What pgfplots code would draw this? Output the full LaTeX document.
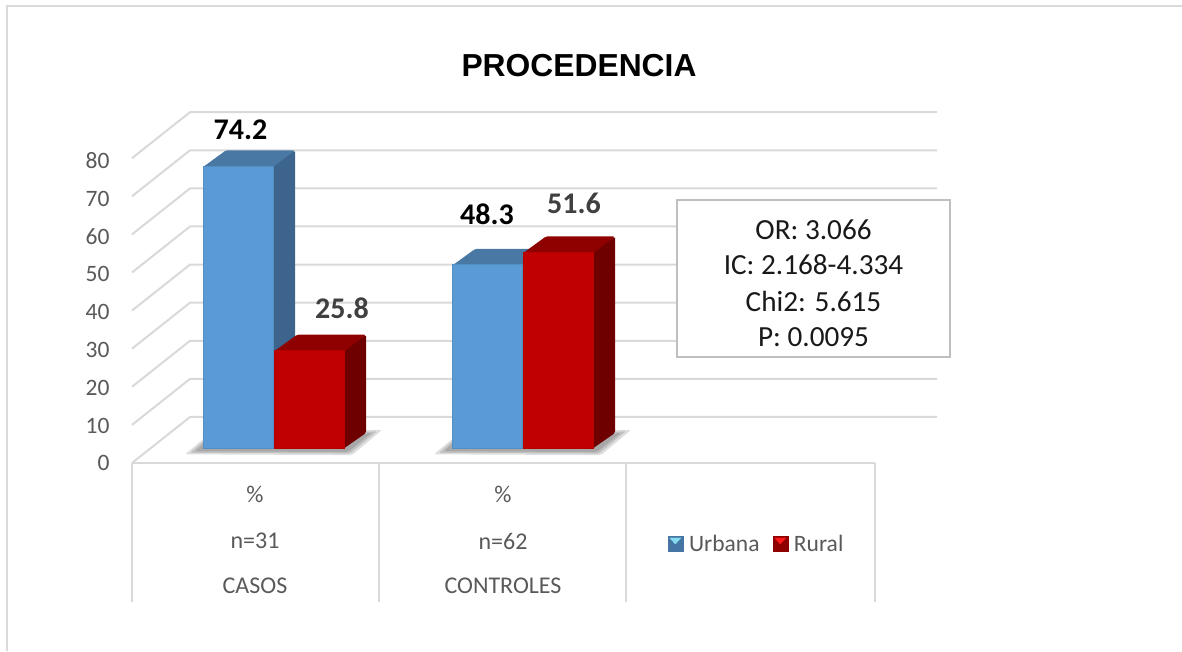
\documentclass[border=0pt]{standalone}
\usepackage{pgfplots}
\pgfplotsset{compat=1.18}
\usepackage{fontspec}
\setmainfont{Carlito}
\newfontfamily\titlefont{Liberation Sans}
\definecolor{gridc}{HTML}{D9D9D9}
\definecolor{bluef}{HTML}{5B9BD5}
\definecolor{bluet}{HTML}{4A78A4}
\definecolor{blues}{HTML}{3C648C}
\definecolor{redf}{HTML}{C00000}
\definecolor{redt}{HTML}{8F0000}
\definecolor{reds}{HTML}{6E0000}
\definecolor{txt}{HTML}{595959}
\newcommand\tlab[2]{\node[font=\fontsize{23.5}{23.5}\selectfont,text=txt,anchor=east] at (axis cs:113,{(449-#2)/3.81}) {#1};}
\newcommand\dlab[4]{\node[font=\bfseries\fontsize{30}{30}\selectfont,text=#4] at (axis cs:#2,{(449-#3)/3.81}) {#1};}
\newcommand\clab[3]{\node[font=\fontsize{24}{24}\selectfont,text=txt] at (axis cs:#2,{(449-#3)/3.81}) {#1};}
\newcommand\blab[2]{\node[font=\fontsize{29.2}{29.2}\selectfont,text=black!90] at (axis cs:813.5,{(449-#2)/3.81}) {#1};}
\begin{document}
\begin{tikzpicture}[x=1pt,y=1pt]
\begin{axis}[
  at={(0,0)},anchor=south west,
  width=1182pt,height=651pt,scale only axis,
  xmin=0,xmax=1182,ymin=-53.02,ymax=117.85,
  axis line style={draw=none},ticks=none,
  legend style={at={(axis cs:756.5,{(449-544)/3.81})},anchor=center,draw=none,fill=none,
    legend columns=2,font=\fontsize{23.5}{23.5}\selectfont\color{txt},
    /tikz/every even column/.append style={column sep=11pt}},
]
% frame
\addplot[forget plot,gridc,line width=2pt] coordinates {(7,-53.02)(7,116.27)(1182,116.27)};
% gridlines
\pgfplotsset{grid line/.style={forget plot,gridc,line width=2pt}}
\addplot[grid line] coordinates {(132,-3.67)(190,8.4)(937,8.4)};
\addplot[grid line] coordinates {(132,6.33)(190,18.4)(937,18.4)};
\addplot[grid line] coordinates {(132,16.33)(190,28.4)(937,28.4)};
\addplot[grid line] coordinates {(132,26.33)(190,38.4)(937,38.4)};
\addplot[grid line] coordinates {(132,36.33)(190,48.4)(937,48.4)};
\addplot[grid line] coordinates {(132,46.33)(190,58.4)(937,58.4)};
\addplot[grid line] coordinates {(132,56.33)(190,68.4)(937,68.4)};
\addplot[grid line] coordinates {(132,66.33)(190,78.4)(937,78.4)};
\addplot[grid line] coordinates {(132,76.33)(190,88.4)(937,88.4)};
% floor front and table
\addplot[grid line] coordinates {(132,-3.67)(875,-3.67)};
\addplot[grid line] coordinates {(132,-3.67)(132,-40.16)};
\addplot[grid line] coordinates {(379,-3.67)(379,-40.16)};
\addplot[grid line] coordinates {(626,-3.67)(626,-40.16)};
\addplot[grid line] coordinates {(875,-3.67)(875,-40.16)};
% shadows
\pgfplotsset{shad/.style={forget plot,draw=none,fill=black,fill opacity=0.13,rounded corners=2pt}}
\addplot[shad] coordinates {(185,-1.4)(205,3)(370,5)(382,5)(352,-1.6)} -- cycle;
\addplot[shad] coordinates {(190,-1.0)(205,2.4)(368,4.5)(377,4.7)(350,-1.2)} -- cycle;
\addplot[shad] coordinates {(195,-0.6)(205,1.8)(366,4)(372,4.3)(348,-0.8)} -- cycle;
\addplot[shad] coordinates {(434,-1.4)(454,3)(619,5)(631,5)(601,-1.6)} -- cycle;
\addplot[shad] coordinates {(439,-1.0)(454,2.4)(617,4.5)(626,4.7)(599,-1.2)} -- cycle;
\addplot[shad] coordinates {(444,-0.6)(454,1.8)(615,4)(621,4.3)(597,-0.8)} -- cycle;
% CASOS Urbana 3-D faces
\pgfplotsset{face/.style={forget plot,draw=none,rounded corners=1.5pt}}
\addplot[face,fill=blues] coordinates {(272,0)(295,4.2)(295,78.4)(272,74.2)} -- cycle;
\addplot[face,fill=bluet] coordinates {(203,74)(273,74)(295,78.4)(226,78.4)} -- cycle;
\addplot[forget plot,ybar,bar width=70pt,bar shift=0pt,draw=bluef!92!black,line width=1pt,fill=bluef] coordinates {(238,74.2)};
% CONTROLES Urbana 3-D faces
\addplot[face,fill=blues] coordinates {(521,0)(544,4.2)(544,52.5)(521,48.3)} -- cycle;
\addplot[face,fill=bluet] coordinates {(452,48.1)(522,48.1)(544,52.5)(475,52.5)} -- cycle;
\addplot[forget plot,ybar,bar width=70pt,bar shift=0pt,draw=bluef!92!black,line width=1pt,fill=bluef] coordinates {(487,48.3)};
% CASOS Rural
\addplot[face,fill=reds] coordinates {(343,0)(366,4.2)(366,30)(343,25.8)} -- cycle;
\addplot[face,fill=redt] coordinates {(274,25.6)(344,25.6)(366,30)(297,30)} -- cycle;
\addplot[forget plot,ybar,bar width=70pt,bar shift=0pt,draw=redf!95!black,line width=1pt,fill=redf] coordinates {(309,25.8)};
% CONTROLES Rural
\addplot[face,fill=reds] coordinates {(592,0)(615,4.2)(615,55.8)(592,51.6)} -- cycle;
\addplot[face,fill=redt] coordinates {(523,51.4)(593,51.4)(615,55.8)(546,55.8)} -- cycle;
\addplot[forget plot,ybar,bar width=70pt,bar shift=0pt,draw=redf!95!black,line width=1pt,fill=redf] coordinates {(558,51.6)};
% legend
\addlegendimage{legend image code/.code={
  \fill[blues!70!bluef] (0pt,-7pt) rectangle (15pt,8pt);
  \fill[bluef!60!cyan!60!white] (2pt,6pt) -- (13pt,6pt) -- (7.5pt,0pt) -- cycle;}}
\addlegendentry{\hspace{4pt}Urbana}
\addlegendimage{legend image code/.code={
  \fill[redt] (0pt,-7pt) rectangle (15pt,8pt);
  \fill[red!90!white] (2pt,6pt) -- (13pt,6pt) -- (7.5pt,0pt) -- cycle;}}
\addlegendentry{\hspace{4pt}Rural}
% title
\node[font=\titlefont\bfseries\fontsize{31.8}{31.8}\selectfont,anchor=center] at (axis cs:579,{(449-66)/3.81}) {PROCEDENCIA};
% tick labels
\tlab{0}{463}
\tlab{10}{426}
\tlab{20}{388}
\tlab{30}{350}
\tlab{40}{312}
\tlab{50}{274}
\tlab{60}{237}
\tlab{70}{199}
\tlab{80}{161}
% data labels
\dlab{74.2}{240.5}{130}{black}
\dlab{25.8}{342}{308}{black!75}
\dlab{48.3}{487}{214}{black}
\dlab{51.6}{574}{203}{black!75}
% categories
\clab{\%}{255}{494}
\clab{n=31}{255}{541}
\clab{CASOS}{255}{586}
\clab{\%}{503}{494}
\clab{n=62}{503}{541}
\clab{CONTROLES}{503}{586}
% statistics box
\draw[draw=black!25,fill=white,line width=1.5pt] (axis cs:677,65.35) rectangle (axis cs:950,24.15);
\blab{OR: 3.066}{230}
\blab{IC: 2.168-4.334}{265}
\blab{Chi2: 5.615}{301}
\blab{P: 0.0095}{337}
\end{axis}
\end{tikzpicture}
\end{document}
